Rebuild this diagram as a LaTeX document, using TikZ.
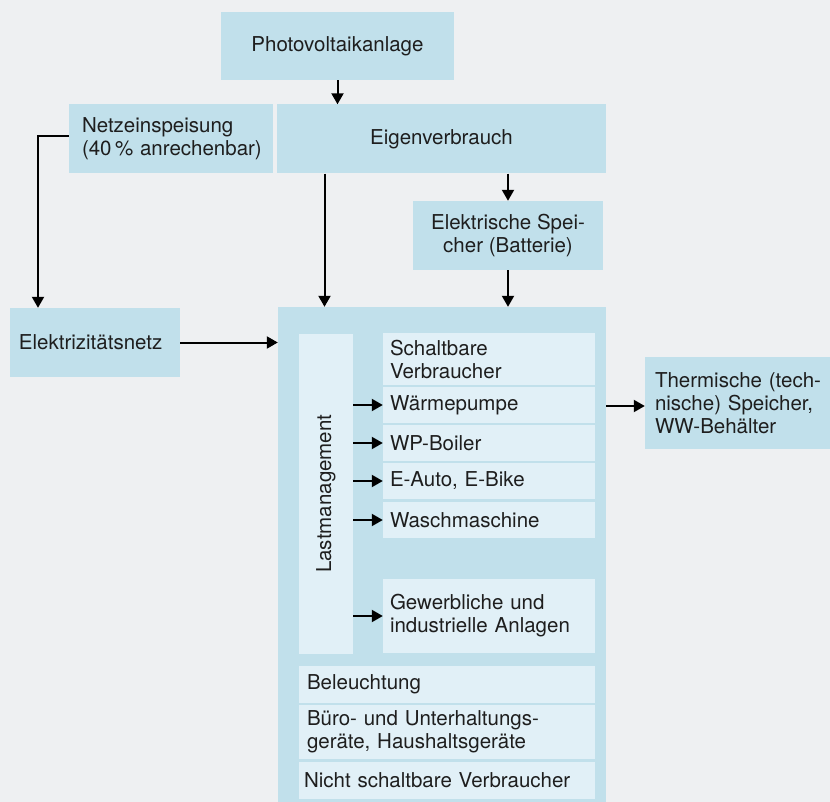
\documentclass[tikz,border=0pt]{standalone}
\usepackage{fontspec}
\newfontfamily\hfont{TeX Gyre Heros}
\usetikzlibrary{arrows.meta}
\definecolor{bgc}{HTML}{EEF0F2}
\definecolor{dblue}{HTML}{C1E0EB}
\definecolor{lblue}{HTML}{E1F0F7}
\definecolor{txt}{HTML}{1E1E1E}
\begin{document}
\begin{tikzpicture}[x=1pt,y=-1pt,
  box/.style={fill=dblue, inner ysep=0pt, inner xsep=0pt, text=txt,
    font={\hfont\fontsize{20.5}{23}\selectfont},
    execute at begin node={\hyphenpenalty=10000 \exhyphenpenalty=10000 \hbadness=10000 \hfuzz=100pt}},
  sub/.style={box, fill=lblue},
  lbox/.style={align=left, inner xsep=#1},
  arr/.style={-{Triangle[length=11pt,width=12pt]}, line width=2pt, draw=black}]
\useasboundingbox (0,0) rectangle (830,802);
\fill[bgc] (0,0) rectangle (830,802);

\node[box, minimum width=233, minimum height=68, align=center] (pv) at (337.5,46) {Photovoltaikanlage};
\node[box, lbox=13pt, text width=178, minimum height=69] (netz) at (171,138.5) {Netzeinspeisung\\(40\,\%~anrechenbar)};
\node[box, minimum width=329, minimum height=69, align=center] (eigen) at (441.5,139) {Eigenverbrauch};
\node[box, minimum width=190, minimum height=69, align=center] (speicher) at (508,235.5) {Elektrische Spei-\\cher (Batterie)};
\node[box, lbox=9pt, text width=152, minimum height=69] (elnetz) at (95,342.5) {Elektrizitätsnetz};
\node[box, minimum width=328, minimum height=500] (cont) at (442,557) {};
\node[box, lbox=10pt, text width=165, minimum height=92] (therm) at (737.5,403) {Thermische~(tech-\\nische) Speicher,\\WW-Behälter};

\node[sub, minimum width=319.5, minimum height=54, rotate=90] (lm) at (326,493.75) {Lastmanagement};
\node[sub, lbox=7pt, text width=198, minimum height=52] (sv) at (489,359) {Schaltbare\\Verbraucher};
\node[sub, lbox=7pt, text width=198, minimum height=36] (wp) at (489,405) {Wärmepumpe};
\node[sub, lbox=7pt, text width=198, minimum height=36] (wpb) at (489,443) {WP-Boiler};
\node[sub, lbox=7pt, text width=198, minimum height=36] (ea) at (489,481) {E-Auto, E-Bike};
\node[sub, lbox=7pt, text width=198, minimum height=36] (wm) at (489,520) {Waschmaschine};
\node[sub, lbox=7pt, text width=198, minimum height=74] (gw) at (489,616) {Gewerbliche und\\industrielle Anlagen};
\node[sub, lbox=8pt, text width=280, minimum height=37] (bel) at (447,684.5) {Beleuchtung};
\node[sub, lbox=8pt, text width=280, minimum height=54] (bu) at (447,732) {Büro- und Unterhaltungs-\\geräte, Haushaltsgeräte};
\node[sub, lbox=5pt, text width=286, minimum height=37] (ns) at (447,780.5) {Nicht schaltbare Verbraucher};

\draw[arr] (pv.south) -- (pv.south |- eigen.north);
\draw[arr] ([yshift=2.5pt]netz.west) -| ([xshift=-57pt]elnetz.north);
\draw[arr] ([xshift=-117pt]eigen.south) -- ([xshift=-117pt]eigen.south |- cont.north);
\draw[arr] (speicher.north |- eigen.south) -- (speicher.north);
\draw[arr] (speicher.south) -- (speicher.south |- cont.north);
\draw[arr] (elnetz.east) -- (elnetz.east -| cont.west);
\draw[arr] ([yshift=-3pt]cont.east |- therm.west) -- ([yshift=-3pt]therm.west);
\draw[arr] (wp.west -| lm.south) -- (wp.west);
\draw[arr] (wpb.west -| lm.south) -- (wpb.west);
\draw[arr] (ea.west -| lm.south) -- (ea.west);
\draw[arr] (wm.west -| lm.south) -- (wm.west);
\draw[arr] (gw.west -| lm.south) -- (gw.west);
\end{tikzpicture}
\end{document}
